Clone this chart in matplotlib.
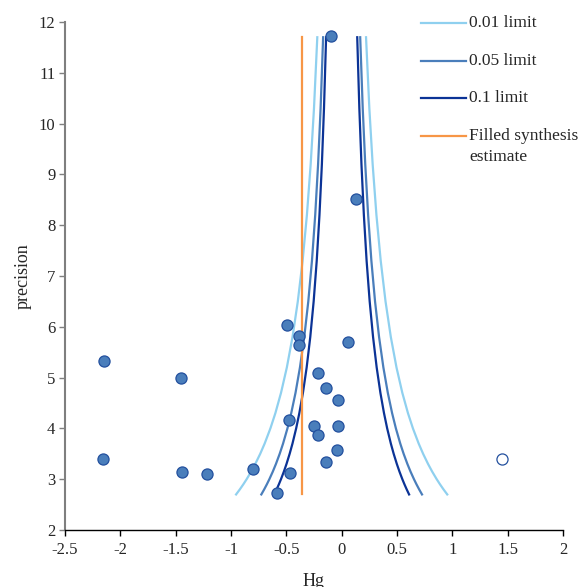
import numpy as np
import matplotlib
matplotlib.use("Agg")
import matplotlib.pyplot as plt
from matplotlib.lines import Line2D

plt.rcParams['font.family'] = ['Liberation Serif', 'DejaVu Serif']
plt.rcParams['axes.unicode_minus'] = False

# observed studies (effect Hg, precision)
study_hg = [-2.147, -1.452, -2.159, -1.445, -1.214, -0.80, -0.49, -0.479, -0.58, -0.467,
            -0.388, -0.388, 0.054, -0.217, -0.142, -0.03, -0.253, -0.036, -0.211, -0.039,
            -0.145, -0.097, 0.129]
study_precision = [5.33, 4.99, 3.39, 3.14, 3.10, 3.20, 6.03, 4.16, 2.72, 3.12,
                   5.81, 5.64, 5.71, 5.10, 4.79, 4.56, 4.04, 4.04, 3.87, 3.57,
                   3.34, 11.72, 8.52]

# imputed (filled) study
filled_hg = [1.451]
filled_precision = [3.39]

# filled synthesis estimate
estimate = -0.355
estimate_range = [2.7, 11.7]

# funnel limits: critical z for each significance level
limit_names = ["0.01 limit", "0.05 limit", "0.1 limit"]
limit_z = [2.576, 1.96, 1.645]
limit_colors = ["#8fd0ef", "#4a7ebb", "#0b3396"]
funnel_precision = np.array([2.7, 2.8, 2.9, 3.0, 3.15, 3.3, 3.5, 3.7, 4.0, 4.3, 4.7,
                             5.2, 5.8, 6.5, 7.3, 8.2, 9.2, 10.3, 11.7])

fig = plt.figure(figsize=(5.79, 5.87), dpi=100)
ax = fig.add_axes([65 / 579, 1 - 530 / 587, 498 / 579, 508 / 587])

for name, z, c in zip(limit_names, limit_z, limit_colors):
    ax.plot(-z / funnel_precision, funnel_precision, color=c, lw=1.6)
    ax.plot(z / funnel_precision, funnel_precision, color=c, lw=1.6)

ax.plot([estimate, estimate], estimate_range, color="#f79646", lw=1.6)

ax.scatter(study_hg, study_precision, s=64, facecolor="#4a7ebb", edgecolor="#23509e",
           linewidth=0.9, zorder=5)
ax.scatter(filled_hg, filled_precision, s=64, facecolor="white", edgecolor="#23509e",
           linewidth=0.9, zorder=5)

ax.set_xlim(-2.5, 2)
ax.set_ylim(2, 12)
ax.set_xticks(np.arange(-2.5, 2.01, 0.5))
ax.set_xticklabels(["-2.5", "-2", "-1.5", "-1", "-0.5", "0", "0.5", "1", "1.5", "2"])
ax.set_yticks(range(2, 13))

for s in ["top", "right"]:
    ax.spines[s].set_visible(False)
ax.spines["left"].set_color("#7f7f7f")
ax.spines["left"].set_linewidth(1.5)
ax.spines["bottom"].set_color("black")
ax.spines["bottom"].set_linewidth(1.0)
ax.tick_params(axis="y", colors="#7f7f7f", labelcolor="#262626", labelsize=12,
               length=4, width=1, pad=3)
ax.tick_params(axis="x", colors="black", labelcolor="#262626", labelsize=12,
               length=4.5, width=1, pad=4)

ax.set_xlabel("Hg", fontsize=13, color="#262626", labelpad=11)
ax.set_ylabel("precision", fontsize=13, color="#262626", labelpad=5)

# legend drawn at the right top, handle aligned with first text line
leg_items = [("0.01 limit", "#8fd0ef"), ("0.05 limit", "#4a7ebb"),
             ("0.1 limit", "#0b3396"), ("Filled synthesis\nestimate", "#f79646")]
W, H = 579, 587
for i, (lab, c) in enumerate(leg_items):
    ypx = 23 + i * 37.7
    fig.add_artist(Line2D([421 / W, 466 / W], [1 - ypx / H, 1 - ypx / H], color=c, lw=1.6))
    for j, part in enumerate(lab.split("\n")):
        fig.text(469 / W, 1 - (ypx + j * 21) / H, part, fontsize=12.5, color="#262626",
                 va="center")

fig.savefig("out.png", dpi=100)
